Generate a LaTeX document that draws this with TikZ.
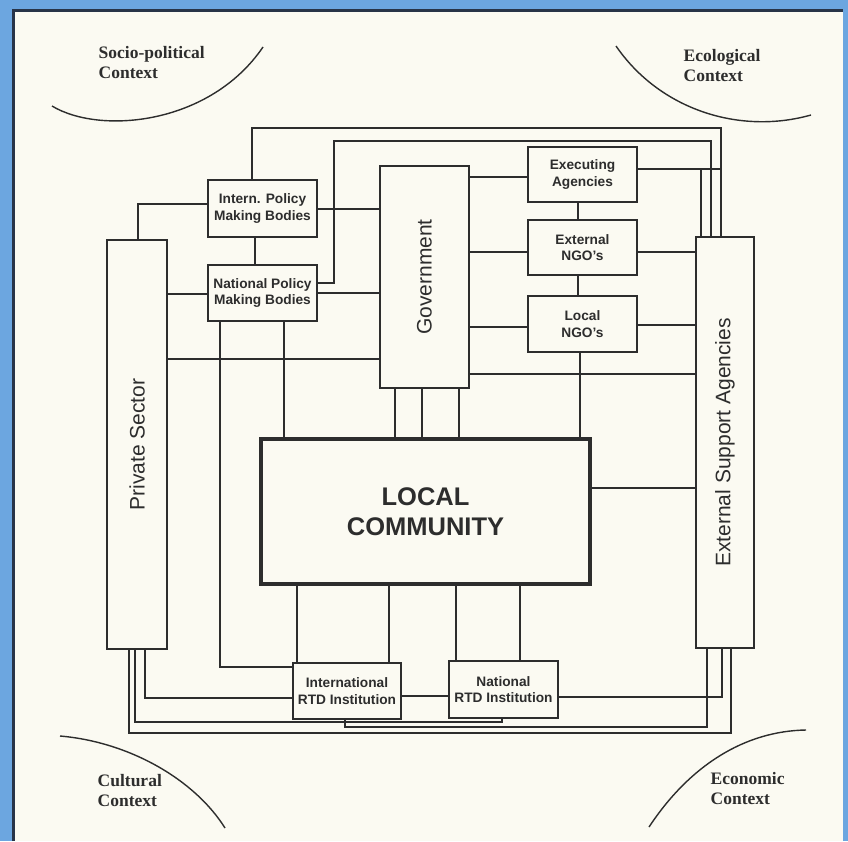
\documentclass[tikz,border=0pt]{standalone}
\usepackage{fontspec}
\setmainfont{Liberation Serif}
\setsansfont{Liberation Sans}
\usepackage{xcolor}
\usepackage{tikz}

\definecolor{bgblue}{RGB}{108,166,224}
\definecolor{paper}{RGB}{251,250,242}
\definecolor{ink}{RGB}{45,45,45}
\definecolor{frame}{RGB}{40,52,72}

\begin{document}
\begin{tikzpicture}[x=1pt, y=-1pt, ink, line width=1.4pt,
    box/.style={draw=ink, line width=1.8pt, rectangle, inner sep=0pt, fill=paper, align=center, font=\sffamily\bfseries\fontsize{13.7}{16.5}\selectfont},
    bar/.style={draw=ink, line width=1.8pt, rectangle, inner sep=0pt, fill=paper},
    vtext/.style={rotate=90, inner sep=0pt, font=\sffamily\fontsize{21}{24}\selectfont},
    context/.style={anchor=north west, inner sep=0pt, align=left, font=\bfseries\fontsize{17.5}{20}\selectfont}]
    \useasboundingbox (0,0) rectangle (848,841);
    \fill[bgblue] (0,0) rectangle (848,841);
    \fill[paper] (13,10) rectangle (843,841);
    \draw[line width=3pt, frame] (13,841) |- (843,10);

    \node[context] (socio) at (98,46) {Socio-political\\Context};
    \node[context] (eco) at (683,49) {Ecological\\Context};
    \node[context] (cult) at (97,774) {Cultural\\Context};
    \node[context] (econ) at (710,772) {Economic\\Context};
    \draw (52,106) .. controls (100,135) and (210,125) .. (263,47);
    \draw (616,46) .. controls (660,110) and (740,135) .. (811,115);
    \draw (60,736) .. controls (130,742) and (195,780) .. (225,828);
    \draw (806,730) .. controls (745,731) and (690,765) .. (649,827);

    \node[box, minimum width=109, minimum height=57] (intern) at (262.5,208.5) {Intern. Policy\\Making Bodies};
    \node[box, minimum width=109, minimum height=56] (npol) at (262.5,293) {National Policy\\Making Bodies};
    \node[box, minimum width=109, minimum height=55] (exec) at (582.5,174.5) {Executing\\Agencies};
    \node[box, minimum width=109, minimum height=55] (extngo) at (582.5,247.5) {External\\NGO's};
    \node[box, minimum width=109, minimum height=56] (locngo) at (582.5,324) {Local\\NGO's};
    \node[box, minimum width=108, minimum height=56] (irtd) at (347,691) {International\\RTD Institution};
    \node[box, minimum width=109, minimum height=57] (nrtd) at (503.5,689.5) {National\\RTD Institution};
    \node[bar, minimum width=60, minimum height=409, label={[vtext]center:Private Sector}] (ps) at (137,444.5) {};
    \node[bar, minimum width=89, minimum height=222, label={[vtext]center:Government}] (gov) at (424.5,277) {};
    \node[bar, minimum width=58, minimum height=411, label={[vtext]center:External Support Agencies}] (esa) at (725,442.5) {};
    \node[bar, line width=4pt, minimum width=329, minimum height=145, align=center,
          font=\sffamily\bfseries\fontsize{25.5}{30}\selectfont] (lc) at (425.5,511.5) {LOCAL\\COMMUNITY};
    \coordinate (jA) at (721,169);
    \coordinate (jB) at (701,169);

    \draw (intern.north -| 252,0) -- (252,128) -| (esa.north -| 721,0);
    \draw (npol.east |- 0,283) -- (334,283) |- (711,141) -- (esa.north -| 711,0);
    \draw (intern.west |- 0,204) -| (ps.north -| 138,0);
    \draw (intern.south -| 255,0) -- (npol.north -| 255,0);
    \draw (ps.east |- 0,294) -- (npol.west |- 0,294);
    \draw (intern.east |- 0,209) -- (gov.west |- 0,209);
    \draw (npol.east |- 0,293) -- (gov.west |- 0,293);
    \draw (ps.east |- 0,359) -- (gov.west |- 0,359);
    \draw (npol.south -| 220,0) |- (irtd.west |- 0,667);
    \draw (npol.south -| 284,0) -- (lc.north -| 284,0);
    \foreach \x in {395,422,459}
        \draw (gov.south -| \x,0) -- (lc.north -| \x,0);
    \draw (gov.east |- 0,177) -- (exec.west |- 0,177);
    \draw (gov.east |- 0,252) -- (extngo.west |- 0,252);
    \draw (gov.east |- 0,327) -- (locngo.west |- 0,327);
    \draw (gov.east |- 0,374) -- (esa.west |- 0,374);
    \draw (exec.south -| 578,0) -- (extngo.north -| 578,0);
    \draw (extngo.south -| 578,0) -- (locngo.north -| 578,0);
    \draw (locngo.south -| 580,0) -- (lc.north -| 580,0);
    \draw (extngo.east |- 0,252) -- (esa.west |- 0,252);
    \draw (locngo.east |- 0,325) -- (esa.west |- 0,325);
    \draw (exec.east |- jA) -- (jA);
    \draw (jB) -- (esa.north -| jB);
    \draw (lc.east |- 0,488) -- (esa.west |- 0,488);
    \foreach \x in {297,389}
        \draw (lc.south -| \x,0) -- (irtd.north -| \x,0);
    \foreach \x in {456,520}
        \draw (lc.south -| \x,0) -- (nrtd.north -| \x,0);
    \draw (irtd.east |- 0,696) -- (nrtd.west |- 0,696);
    \draw (nrtd.east |- 0,697) -| (esa.south -| 722,0);
    \draw (ps.south -| 145,0) |- (irtd.west |- 0,698);
    \draw (ps.south -| 135,0) |- (502,722) -- (nrtd.south -| 502,0);
    \draw (irtd.south -| 345,0) |- (707,727) -- (esa.south -| 707,0);
    \draw (ps.south -| 129,0) |- (731,733) -- (esa.south -| 731,0);
\end{tikzpicture}
\end{document}
